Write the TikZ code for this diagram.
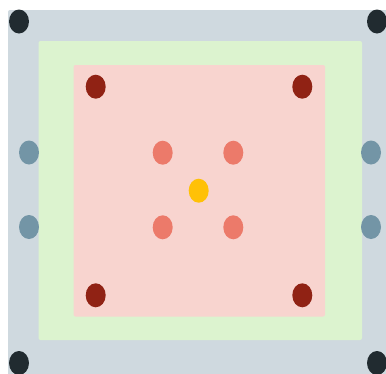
\documentclass[tikz,border=0pt]{standalone}
\usetikzlibrary{shapes.geometric}
\definecolor{outerbg}{HTML}{CFD9DF}
\definecolor{midbg}{HTML}{DCF3CF}
\definecolor{innerbg}{HTML}{F8D4CF}
\definecolor{darkdot}{HTML}{212B30}
\definecolor{reddot}{HTML}{902214}
\definecolor{salmondot}{HTML}{EC7A6A}
\definecolor{yellowdot}{HTML}{FFC107}
\definecolor{bluedot}{HTML}{7395A6}
\tikzset{
  dot/.style={ellipse, minimum width=20pt, minimum height=24pt, inner sep=0pt, draw=none, fill=#1},
  panel/.style={fill=#1, draw=none, rounded corners=2pt}
}
\begin{document}
\begin{tikzpicture}[x=1pt,y=-1pt]
\useasboundingbox (0,0) rectangle (386,373);
\fill[white] (0,0) rectangle (386,373);
\path[panel=outerbg] (8,10) rectangle (390,377);
\path[panel=midbg] (38.5,41) rectangle (362,340);
\path[panel=innerbg] (73.5,65) rectangle (325,316.5);
% corner dots
\node[dot=darkdot] (c1) at (19,21.5) {};
\node[dot=darkdot] (c2) at (377,21.5) {};
\node[dot=darkdot] (c3) at (19,363) {};
\node[dot=darkdot] (c4) at (377,363) {};
% side dots
\node[dot=bluedot] (s1) at (29,152.5) {};
\node[dot=bluedot] (s2) at (29,227) {};
\node[dot=bluedot] (s3) at (371,152.5) {};
\node[dot=bluedot] (s4) at (371,227) {};
% inner corner dots
\node[dot=reddot] (r1) at (95.7,86.7) {};
\node[dot=reddot] (r2) at (302.3,86.7) {};
\node[dot=reddot] (r3) at (95.7,295.3) {};
\node[dot=reddot] (r4) at (302.3,295.3) {};
% center dots
\node[dot=salmondot] (m1) at (162.7,152.7) {};
\node[dot=salmondot] (m2) at (233.3,152.7) {};
\node[dot=salmondot] (m3) at (162.7,227.3) {};
\node[dot=salmondot] (m4) at (233.3,227.3) {};
\node[dot=yellowdot] (ctr) at (198.7,190.7) {};
\end{tikzpicture}
\end{document}
